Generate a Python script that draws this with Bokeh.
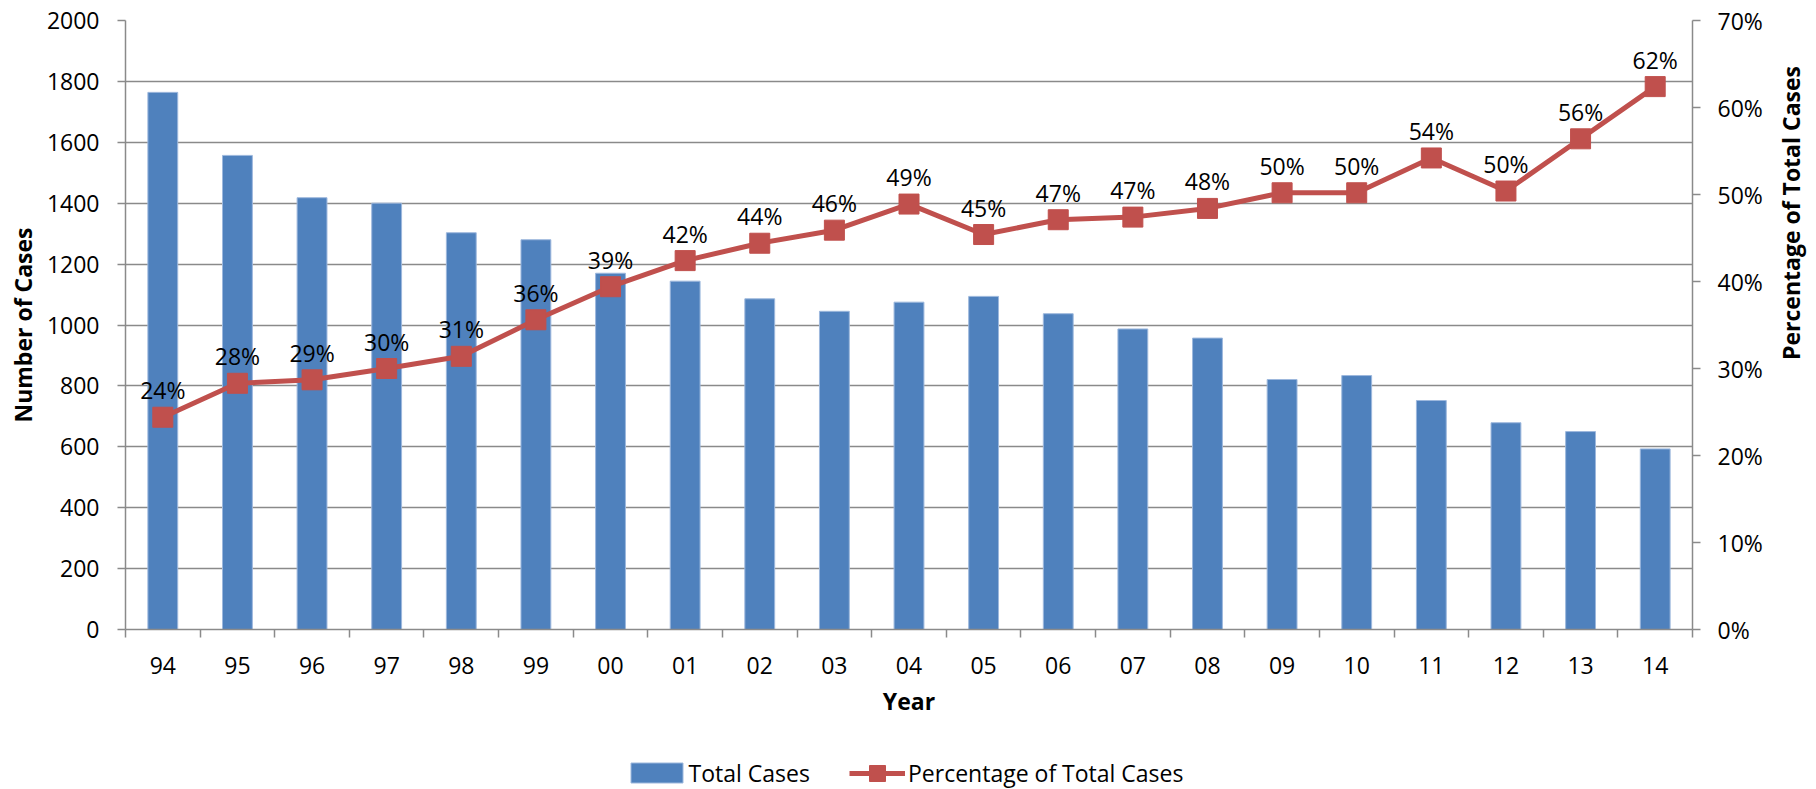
import math
from bokeh.plotting import figure
from bokeh.layouts import row, column
from bokeh.models import (ColumnDataSource, Range1d, LinearAxis, FixedTicker,
                          PrintfTickFormatter, Legend, LegendItem, Label)
from bokeh.core.properties import value
from bokeh.embed import file_html
from bokeh.resources import INLINE

# ---------------- data ----------------
years = ["94", "95", "96", "97", "98", "99", "00", "01", "02", "03", "04",
         "05", "06", "07", "08", "09", "10", "11", "12", "13", "14"]
total_cases = [1764, 1557, 1418, 1400, 1303, 1280, 1170, 1144, 1086, 1045, 1075,
               1094, 1037, 987, 957, 821, 834, 752, 679, 650, 593]
pct_total = [24.4, 28.3, 28.7, 30.0, 31.4, 35.6, 39.4, 42.4, 44.4, 45.9, 48.9,
             45.4, 47.1, 47.4, 48.4, 50.2, 50.2, 54.2, 50.4, 56.4, 62.4]
left_ticks = list(range(0, 2001, 200))
right_ticks = list(range(0, 71, 10))
series_names = ["Total Cases", "Percentage of Total Cases"]

FONT = "Open Sans"
FS = "23px"
BAR = "#4F81BD"
BAR_EDGE = "#9db8dd"
RED = "#C0504D"
GRID = "#8a8a8a"

n = len(years)
xs = list(range(n))
src = ColumnDataSource(dict(
    x=xs, cases=total_cases, pct=pct_total,
    lbl=[f"{round(v)}%" for v in pct_total],
))

# ---------------- main chart ----------------
MAIN_W, MAIN_H = 1770, 741
p = figure(width=MAIN_W, height=MAIN_H, output_backend="svg", toolbar_location=None,
           x_range=Range1d(-0.5, n - 0.5), y_range=Range1d(0, 2000),
           min_border_left=125, min_border_right=78,
           min_border_top=20, min_border_bottom=112)
p.outline_line_color = None
p.background_fill_color = "white"
p.border_fill_color = "white"
p.extra_y_ranges = {"pct": Range1d(0, 70)}

p.vbar(x="x", top="cases", width=0.40, source=src, fill_color=BAR,
       line_color=BAR_EDGE, line_width=1)
p.line(x="x", y="pct", source=src, y_range_name="pct",
       line_color=RED, line_width=5)
p.scatter(x="x", y="pct", source=src, y_range_name="pct", marker="square",
          size=20, fill_color=RED, line_color=RED)
p.text(x="x", y="pct", text="lbl", source=src, y_range_name="pct",
       text_font=value(FONT), text_font_size=value(FS), text_color="black",
       text_align="center", text_baseline="alphabetic", y_offset=-27)

xa = p.xaxis[0]
xa.ticker = FixedTicker(ticks=xs, minor_ticks=[i - 0.5 for i in range(n + 1)])
xa.major_label_overrides = {i: years[i] for i in xs}
xa.major_tick_out = 0
xa.major_tick_in = 0
xa.minor_tick_out = 8
xa.minor_tick_in = 0
xa.minor_tick_line_color = GRID
xa.minor_tick_line_width = 1.5
xa.axis_line_color = GRID
xa.axis_line_width = 1.5
xa.major_label_standoff = 19
xa.axis_label = "Year"
xa.axis_label_standoff = 8

ya = p.yaxis[0]
ya.ticker = FixedTicker(ticks=left_ticks)
ya.major_tick_out = 8
ya.major_tick_in = 0
ya.minor_tick_out = 0
ya.minor_tick_in = 0
ya.major_tick_line_color = GRID
ya.major_tick_line_width = 1.5
ya.axis_line_color = GRID
ya.axis_line_width = 1.5
ya.major_label_standoff = 18
ya.axis_label = "Number of Cases"
ya.axis_label_standoff = 5

ra = LinearAxis(y_range_name="pct", ticker=FixedTicker(ticks=right_ticks),
                formatter=PrintfTickFormatter(format="%d%%"))
ra.major_tick_out = 8
ra.major_tick_in = 0
ra.minor_tick_out = 0
ra.minor_tick_in = 0
ra.major_tick_line_color = GRID
ra.major_tick_line_width = 1.5
ra.axis_line_color = GRID
ra.axis_line_width = 1.5
ra.major_label_standoff = 17
p.add_layout(ra, "right")

for ax in (xa, ya, ra):
    ax.major_label_text_font = FONT
    ax.major_label_text_font_size = FS
    ax.major_label_text_color = "black"
    ax.axis_label_text_font = FONT
    ax.axis_label_text_font_size = FS
    ax.axis_label_text_font_style = "bold"
    ax.axis_label_text_color = "black"

p.xgrid.visible = False
p.ygrid.grid_line_color = GRID
p.ygrid.grid_line_width = 1.5

# ---------------- right-hand title strip ----------------
T_W = 1816 - MAIN_W
tfig = figure(width=T_W, height=MAIN_H, output_backend="svg", toolbar_location=None,
              x_axis_type=None, y_axis_type=None, min_border=0,
              x_range=Range1d(0, 1), y_range=Range1d(0, 1))
tfig.outline_line_color = None
tfig.grid.visible = False
tfig.add_layout(Label(x=1790 - MAIN_W, y=MAIN_H - 324.5, x_units="screen", y_units="screen",
                      text=series_names[1], angle=math.pi / 2,
                      text_font=FONT, text_font_size=FS, text_font_style="bold",
                      text_color="black", text_align="center", text_baseline="middle"))

# ---------------- legend strip ----------------
L_H = 789 - MAIN_H
# ranges chosen so the series glyphs here fall outside the strip (legend keys only)
lfig = figure(width=1816, height=L_H, output_backend="svg", toolbar_location=None,
              x_axis_type=None, y_axis_type=None, min_border=0,
              x_range=Range1d(-1000, -999), y_range=Range1d(-1000, -999))
lfig.outline_line_color = None
lfig.grid.visible = False
r_bar = lfig.vbar(x="x", top="cases", width=0.4, source=src, fill_color=BAR,
                  line_color=BAR_EDGE, line_width=1)
r_ln = lfig.line(x="x", y="pct", source=src, line_color=RED, line_width=5)
r_sc = lfig.scatter(x="x", y="pct", source=src, marker="square",
                    fill_color=RED, line_color=RED)

cy = L_H - (773 - MAIN_H)   # item centre measured from the strip's bottom
common = dict(orientation="horizontal", padding=0, margin=0, spacing=0,
              background_fill_alpha=0, border_line_alpha=0,
              label_text_font=FONT, label_text_font_size=FS,
              label_text_color="black")
leg1 = Legend(items=[LegendItem(label=series_names[0], renderers=[r_bar])],
              location=(623.5, cy - 15.5), glyph_width=65, glyph_height=25,
              label_standoff=0, **common)
leg2 = Legend(items=[LegendItem(label=series_names[1], renderers=[r_ln, r_sc])],
              location=(849, cy - 20), glyph_width=56, glyph_height=40,
              label_standoff=3, **common)
lfig.add_layout(leg1, "center")
lfig.add_layout(leg2, "center")

layout = column(row(p, tfig, spacing=0), lfig, spacing=0)
open("out.html", "w").write(file_html(layout, INLINE))
